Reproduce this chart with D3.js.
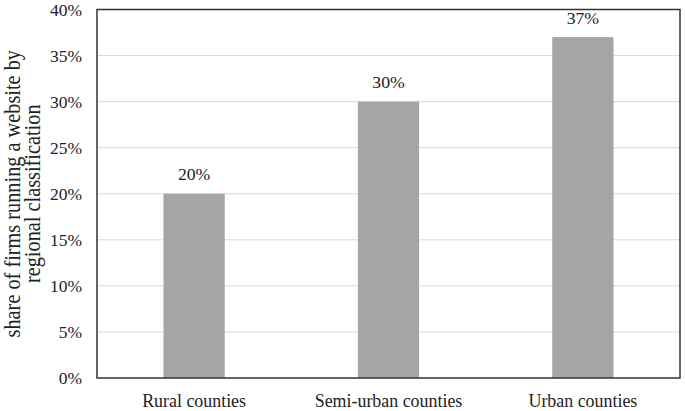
<!DOCTYPE html>
<html><head><meta charset="utf-8">
<script src="https://cdn.jsdelivr.net/npm/d3@7"></script>
<style>body{margin:0;background:#fff}svg{display:block}svg text{font-family:"Liberation Serif","Times New Roman",Tinos !important;fill:#222}</style>
</head><body><svg id="c" width="685" height="411"></svg>
<script>
const categories = ["Rural counties", "Semi-urban counties", "Urban counties"];
const values = [20, 30, 37];
const labels = ["20%", "30%", "37%"];
const yTicks = [0, 5, 10, 15, 20, 25, 30, 35, 40];

const svg = d3.select("#c");
const m = {l: 97, r: 5, t: 9.5, b: 33};
const W = 685, H = 411;
const x = d3.scaleBand().domain(categories).range([m.l, W - m.r]).paddingInner(0.685).paddingOuter(0.342);
const y = d3.scaleLinear().domain([0, 40]).range([H - m.b, m.t]);

svg.append("g").selectAll("line").data(yTicks.filter(d => d > 0 && d < 40)).join("line")
  .attr("x1", m.l).attr("x2", W - m.r).attr("y1", d => y(d)).attr("y2", d => y(d))
  .attr("stroke", "#d9d9d9").attr("stroke-width", 1);

svg.append("g").selectAll("rect").data(values).join("rect")
  .attr("x", (d, i) => x(categories[i])).attr("width", x.bandwidth())
  .attr("y", d => y(d)).attr("height", d => y(0) - y(d))
  .attr("fill", "#a6a4a5");

svg.append("g").selectAll("text").data(values).join("text")
  .attr("x", (d, i) => x(categories[i]) + x.bandwidth() / 2)
  .attr("y", d => y(d) - 13.3).attr("text-anchor", "middle")
  .attr("font-size", 17.7).text((d, i) => labels[i]);

svg.append("rect").attr("x", m.l).attr("y", m.t).attr("width", W - m.r - m.l).attr("height", y(0) - m.t)
  .attr("fill", "none").attr("stroke", "#333").attr("stroke-width", 1.5);

const ya = svg.append("g").attr("transform", `translate(${m.l},0)`)
  .call(d3.axisLeft(y).tickValues(yTicks).tickFormat(d => d + "%").tickSize(0).tickPadding(15));
ya.select(".domain").remove();
ya.attr("font-family", null).attr("font-size", null);
ya.selectAll("text").attr("font-size", 17.5).attr("fill", "#222");

const xa = svg.append("g").attr("transform", `translate(0,${y(0)})`)
  .call(d3.axisBottom(x).tickSize(0).tickPadding(16));
xa.select(".domain").remove();
xa.attr("font-family", null).attr("font-size", null);
xa.selectAll("text").attr("font-size", 17.9).attr("fill", "#222");

const t = svg.append("text").attr("transform", `translate(0,${(m.t + y(0)) / 2}) scale(1.1,1) rotate(-90)`)
  .attr("text-anchor", "middle").attr("font-size", 20.3);
t.append("tspan").attr("x", 0).attr("y", 18.2).text("share of firms running a website by");
t.append("tspan").attr("x", 0).attr("y", 36.6).text("regional classification");
</script></body></html>
